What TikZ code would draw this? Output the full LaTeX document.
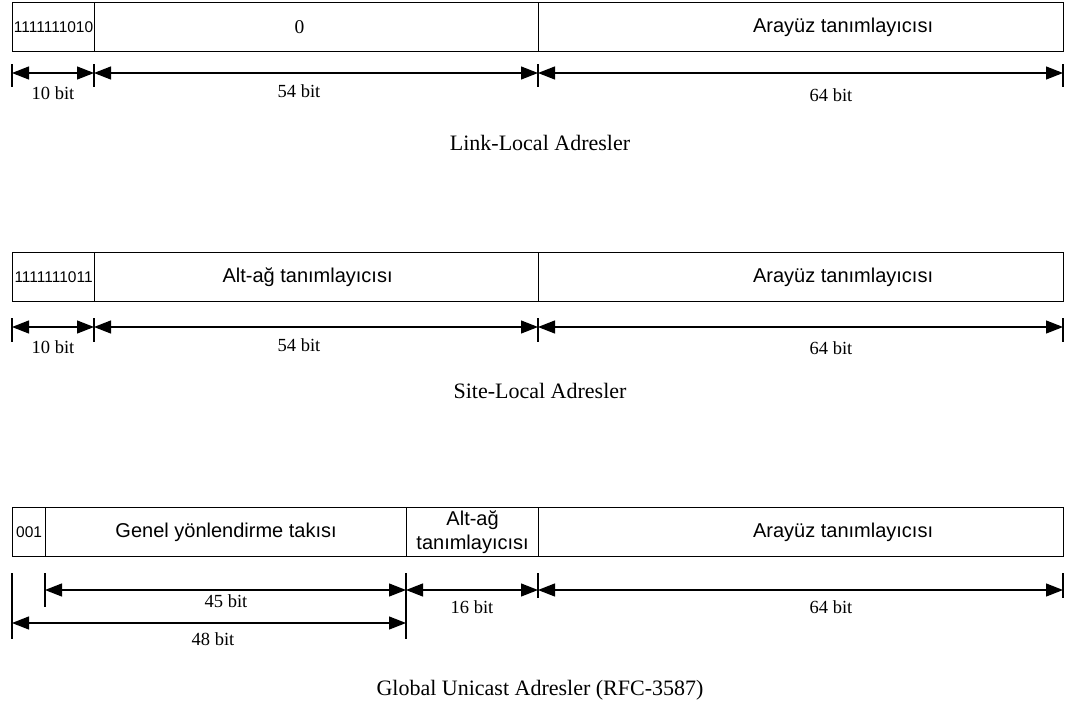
\documentclass[tikz,border=0pt]{standalone}
\usepackage{fontspec}
\setmainfont{Liberation Serif}
\setsansfont{Liberation Sans}
\usetikzlibrary{arrows.meta}
\begin{document}
\begin{tikzpicture}[x=1pt,y=-1pt,
  field/.style={draw,line width=1.2pt,inner sep=0pt,anchor=north west,minimum height=49pt},
  ftext/.style={font=\sffamily\fontsize{20}{23}\selectfont,inner sep=0pt,align=center},
  fbits/.style={font=\sffamily\fontsize{15.5}{17}\selectfont,inner sep=0pt},
  dimlabel/.style={font=\fontsize{18.5}{21}\selectfont,inner sep=0pt},
  caption/.style={font=\fontsize{22}{25}\selectfont,inner sep=0pt},
  tick/.style={line width=1.2pt},
  dim/.style={line width=1.2pt,{Triangle[length=17pt,width=13pt]}-{Triangle[length=17pt,width=13pt]}}]
\useasboundingbox (0,0) rectangle (1074,707);

% ---- Link-Local ----
\node[field,minimum width=82pt]  (l1) at (12,2) {};
\node[field,minimum width=444pt] (l2) at (94,2) {};
\node[field,minimum width=525pt] (l3) at (538,2) {};
\node[fbits] at (l1.center) {1111111010};
\node[font=\fontsize{19.5}{22}\selectfont,inner sep=0pt] at ([xshift=-17pt]l2.center) {0};
\node[ftext] at ([xshift=42pt]l3.center) {Arayüz tanımlayıcısı};
\foreach \x/\n in {12/a,94/b,538/c,1063/d}{
  \coordinate (lt\n) at (\x,73);
  \draw[tick] (\x,64) -- (\x,87);
}
\draw[dim] (lta) -- (ltb);
\draw[dim] (ltb) -- (ltc);
\draw[dim] (ltc) -- (ltd);
\node[dimlabel] at (53,93) {10 bit};
\node[dimlabel] at (299,91) {54 bit};
\node[dimlabel] at (831,95) {64 bit};
\node[caption] (cap1) at (540,143) {Link-Local Adresler};

% ---- Site-Local ----
\node[field,minimum width=82pt]  (s1) at (12,252) {};
\node[field,minimum width=444pt] (s2) at (94,252) {};
\node[field,minimum width=525pt] (s3) at (538,252) {};
\node[fbits] at (s1.center) {1111111011};
\node[ftext] at ([xshift=-9pt]s2.center) {Alt-ağ tanımlayıcısı};
\node[ftext] at ([xshift=42pt]s3.center) {Arayüz tanımlayıcısı};
\foreach \x/\n in {12/a,94/b,538/c,1063/d}{
  \coordinate (st\n) at (\x,327);
  \draw[tick] (\x,318) -- (\x,342);
}
\draw[dim] (sta) -- (stb);
\draw[dim] (stb) -- (stc);
\draw[dim] (stc) -- (std);
\node[dimlabel] at (53,347) {10 bit};
\node[dimlabel] at (299,345) {54 bit};
\node[dimlabel] at (831,348) {64 bit};
\node[caption] (cap2) at (540,391) {Site-Local Adresler};

% ---- Global Unicast ----
\node[field,minimum width=33pt]  (g1) at (12,507) {};
\node[field,minimum width=361pt] (g2) at (45,507) {};
\node[field,minimum width=132pt] (g3) at (406,507) {};
\node[field,minimum width=525pt] (g4) at (538,507) {};
\node[fbits] at (g1.center) {001};
\node[ftext] at (g2.center) {Genel yönlendirme takısı};
\node[ftext,font=\sffamily\fontsize{20}{24}\selectfont] at (g3.center) {Alt-ağ\\tanımlayıcısı};
\node[ftext] at ([xshift=42pt]g4.center) {Arayüz tanımlayıcısı};
\draw[tick] (12,573) -- (12,639);
\draw[tick] (45,573) -- (45,607);
\draw[tick] (406,573) -- (406,639);
\draw[tick] (538,573) -- (538,598);
\draw[tick] (1063,573) -- (1063,598);
\coordinate (ga) at (45,590);
\coordinate (gb) at (406,590);
\coordinate (gc) at (538,590);
\coordinate (gd) at (1063,590);
\coordinate (ge) at (12,623);
\coordinate (gf) at (406,623);
\draw[dim] (ga) -- (gb);
\draw[dim] (gb) -- (gc);
\draw[dim] (gc) -- (gd);
\draw[dim] (ge) -- (gf);
\node[dimlabel] at (226,601) {45 bit};
\node[dimlabel] at (213,639) {48 bit};
\node[dimlabel] at (472,607) {16 bit};
\node[dimlabel] at (831,607) {64 bit};
\node[caption] (cap3) at (540,690) {Global Unicast Adresler (RFC-3587)};
\end{tikzpicture}
\end{document}
